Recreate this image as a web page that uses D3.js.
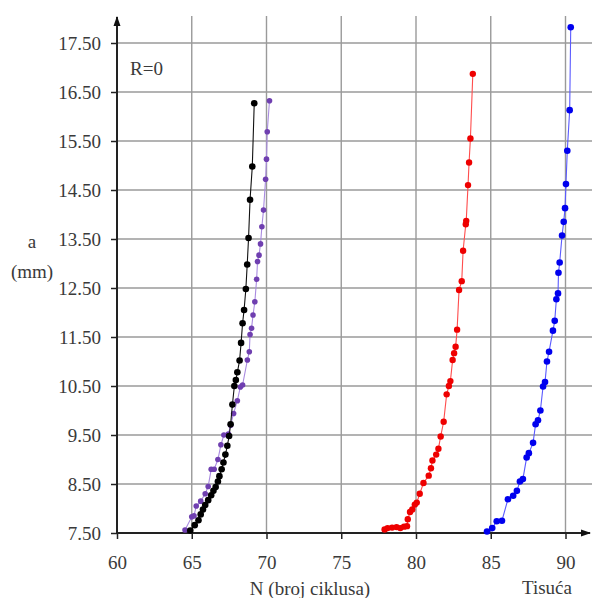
<!DOCTYPE html>
<html><head><meta charset="utf-8">
<script src="https://cdn.jsdelivr.net/npm/d3@7"></script>
<style>html,body{margin:0;padding:0;background:#fff;}svg{display:block;} text{font-family:"Liberation Serif", serif;}</style>
</head><body>
<svg id="c" width="592" height="598"></svg>
<script>
const xTicks = [60, 65, 70, 75, 80, 85, 90];
const yTicks = [7.5, 8.5, 9.5, 10.5, 11.5, 12.5, 13.5, 14.5, 15.5, 16.5, 17.5];

const blackN = [64.9,65.2,65.45,65.6,65.75,65.9,66.1,66.3,66.45,66.6,66.75,66.85,67.0,67.12,67.25,67.38,67.5,67.6,67.72,67.85,67.95,68.05,68.2,68.3,68.4,68.5,68.62,68.71,68.8,68.9,69.05,69.18];
const blackA = [7.55,7.66,7.76,7.88,7.98,8.07,8.17,8.27,8.36,8.44,8.55,8.66,8.8,8.94,9.1,9.28,9.48,9.72,10.12,10.5,10.62,10.78,11.02,11.38,11.78,12.05,12.48,12.98,13.52,14.3,14.98,16.27];

const purpleN = [64.55,65.0,65.15,65.3,65.6,65.9,66.1,66.3,66.5,66.75,66.95,67.15,67.45,67.6,67.8,68.05,68.25,68.4,68.72,68.85,68.9,69.0,69.1,69.22,69.34,69.4,69.5,69.6,69.69,69.8,69.94,70.0,70.05,70.2];
const purpleA = [7.56,7.83,7.85,8.05,8.15,8.3,8.45,8.8,8.8,9.0,9.3,9.5,9.52,9.7,9.94,10.2,10.48,10.52,11.03,11.2,11.55,11.68,11.95,12.22,12.68,13.04,13.17,13.4,13.75,14.09,14.72,15.13,15.69,16.32];

const redN = [77.9,78.1,78.4,78.7,78.95,79.2,79.4,79.45,79.6,79.75,79.92,80.05,80.25,80.5,80.85,81.0,81.1,81.35,81.5,81.65,81.85,82.05,82.2,82.3,82.45,82.55,82.65,82.75,82.88,83.06,83.15,83.33,83.36,83.48,83.55,83.64,83.8];
const redA = [7.57,7.6,7.61,7.62,7.6,7.63,7.64,7.78,7.93,7.98,8.08,8.12,8.3,8.52,8.67,8.82,8.98,9.1,9.22,9.47,9.77,10.33,10.5,10.6,11.03,11.17,11.3,11.65,12.46,12.64,13.26,13.8,13.87,14.6,15.06,15.55,16.87];

const blueN = [84.75,85.1,85.4,85.75,86.15,86.5,86.75,86.95,87.15,87.4,87.55,87.83,88.0,88.16,88.32,88.5,88.63,88.76,88.9,89.16,89.28,89.39,89.5,89.53,89.61,89.77,89.88,89.97,90.03,90.12,90.28,90.35];
const blueA = [7.53,7.6,7.74,7.75,8.19,8.26,8.36,8.55,8.6,9.04,9.13,9.34,9.72,9.8,10.0,10.49,10.58,11.0,11.2,11.63,11.83,12.27,12.39,12.81,13.02,13.57,13.85,14.13,14.62,15.3,16.13,17.82];

const series = [
  {N: purpleN, A: purpleA, line: "#a98be0", dot: "#6f3fb0", r: 2.8},
  {N: blackN, A: blackA, line: "#111", dot: "#000", r: 3.3},
  {N: redN, A: redA, line: "#ff4d4d", dot: "#ee0000", r: 3.2},
  {N: blueN, A: blueA, line: "#5a5aff", dot: "#0000ee", r: 3.3}
];

const svg = d3.select("#c");
const x = d3.scaleLinear().domain([60, 90]).range([117, 565.5]);
const y = d3.scaleLinear().domain([7.5, 17.5]).range([533, 43]);
const xRight = 592, yTop = 16;
const font = '"Liberation Serif", serif';
const txt = "#3a3a3a";

// grid
svg.append("g").selectAll("line").data(xTicks.slice(1)).join("line")
  .attr("x1", d => x(d)).attr("x2", d => x(d)).attr("y1", yTop).attr("y2", y(7.5))
  .attr("stroke", "#9a9a9a").attr("stroke-width", 1.4);
svg.append("g").selectAll("line").data(yTicks.slice(1)).join("line")
  .attr("x1", x(60)).attr("x2", xRight).attr("y1", d => y(d)).attr("y2", d => y(d))
  .attr("stroke", "#9a9a9a").attr("stroke-width", 1.4);

// axes
const yAxis = d3.axisLeft(y).tickValues(yTicks).tickFormat(d3.format(".2f")).tickSize(6).tickSizeOuter(0);
const gy = svg.append("g").attr("transform", `translate(${x(60)},0)`).call(yAxis).attr("font-family", null);
gy.select(".domain").remove();
gy.selectAll(".tick line").attr("stroke", "#222").attr("stroke-width", 1.5);
gy.selectAll(".tick text").style("font-family", font).style("font-size", "19px").attr("fill", txt).attr("x", -16);

const xAxis = d3.axisBottom(x).tickValues(xTicks).tickSize(6).tickSizeOuter(0);
const gx = svg.append("g").attr("transform", `translate(0,${y(7.5)})`).call(xAxis).attr("font-family", null);
gx.select(".domain").remove();
gx.selectAll(".tick line").attr("stroke", "#222").attr("stroke-width", 1.5);
gx.selectAll(".tick text").style("font-family", font).style("font-size", "19px").attr("fill", txt).attr("dy", "0").attr("y", 36);

// axis lines with arrows
const defs = svg.append("defs");
defs.append("marker").attr("id", "arr").attr("viewBox", "0 0 10 10").attr("refX", 9).attr("refY", 5)
  .attr("markerWidth", 5).attr("markerHeight", 5).attr("orient", "auto")
  .append("path").attr("d", "M0,1.5 L10,5 L0,8.5 Z").attr("fill", "#111");
svg.append("line").attr("x1", x(60)).attr("x2", x(60)).attr("y1", y(7.5)).attr("y2", 17)
  .attr("stroke", "#222").attr("stroke-width", 2).attr("marker-end", "url(#arr)");
svg.append("line").attr("x1", x(60)).attr("x2", 590).attr("y1", y(7.5)).attr("y2", y(7.5))
  .attr("stroke", "#222").attr("stroke-width", 2).attr("marker-end", "url(#arr)");

// series
const lineGen = d3.line().x(d => x(d[0])).y(d => y(d[1]));
series.forEach(s => {
  const pts = s.N.map((n, i) => [n, s.A[i]]);
  svg.append("path").datum(pts).attr("d", lineGen).attr("fill", "none")
    .attr("stroke", s.line).attr("stroke-width", 1.1);
  svg.append("g").selectAll("circle").data(pts).join("circle")
    .attr("cx", d => x(d[0])).attr("cy", d => y(d[1])).attr("r", s.r).attr("fill", s.dot);
});

// labels
function label(tx, ty, t, anchor) {
  svg.append("text").attr("x", tx).attr("y", ty).attr("text-anchor", anchor || "start")
    .style("font-family", font).style("font-size", "19px").attr("fill", txt).text(t);
}
label(130, 75, "R=0");
label(32, 248, "a", "middle");
label(32, 278, "(mm)", "middle");
label(310, 595, "N (broj ciklusa)", "middle");
label(547, 594, "Tisuća", "middle");
</script>
</body></html>
